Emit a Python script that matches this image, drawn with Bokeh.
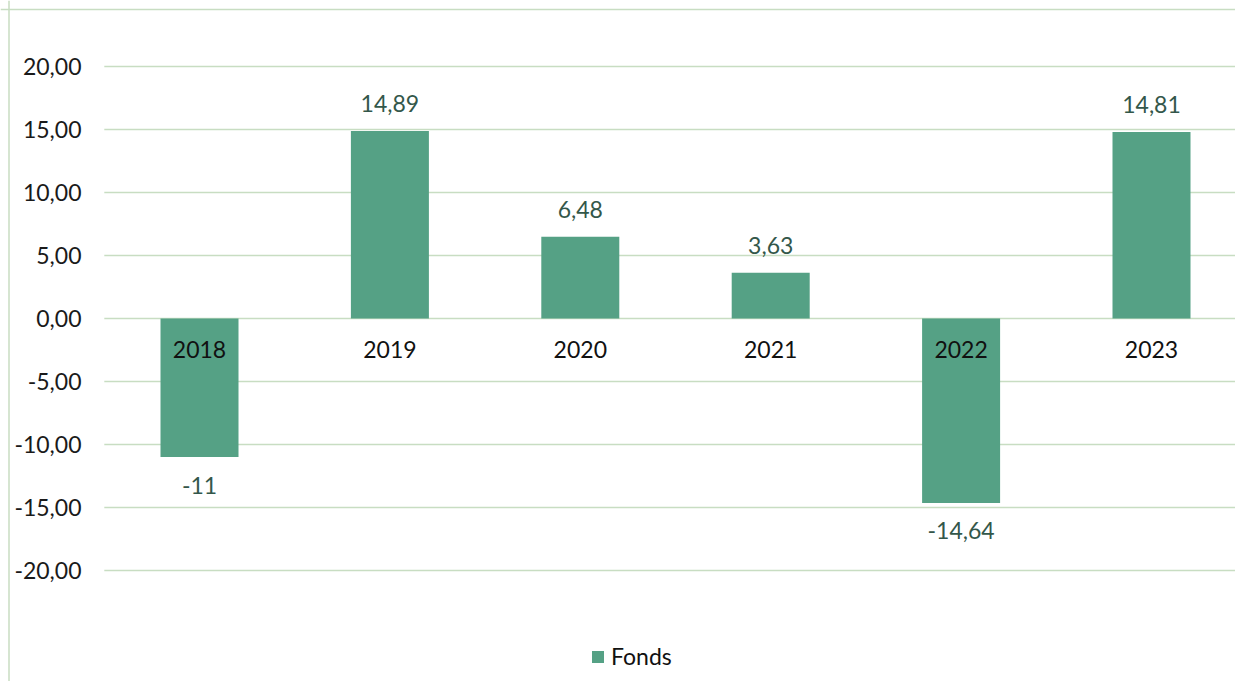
from bokeh.plotting import figure
from bokeh.models import Range1d, Span, Legend, LegendItem, ColumnDataSource
from bokeh.core.properties import value
from bokeh.embed import file_html
from bokeh.resources import INLINE

categories = ["2018", "2019", "2020", "2021", "2022", "2023"]
fonds = [-11.0, 14.89, 6.48, 3.63, -14.64, 14.81]
fonds_labels = ["-11", "14,89", "6,48", "3,63", "-14,64", "14,81"]
y_ticks = [20, 15, 10, 5, 0, -5, -10, -15, -20]
y_tick_labels = ["20,00", "15,00", "10,00", "5,00", "0,00", "-5,00", "-10,00", "-15,00", "-20,00"]

FONT = "Lato"
FS = "23px"
BAR = "#55a185"
GRID = "#c8ddc2"
LABEL = "#33574a"

W, H = 1235, 681
PX_X = 190.4   # px per category
PX_Y = 12.6    # px per unit
x0 = -199 / PX_X
x1 = x0 + W / PX_X
y1 = 318 / PX_Y
y0 = -(H - 318) / PX_Y

p = figure(width=W, height=H, output_backend="svg", toolbar_location=None,
           x_range=Range1d(x0, x1), y_range=Range1d(y0, y1),
           min_border=0, min_border_left=0, min_border_right=0,
           min_border_top=0, min_border_bottom=0)
p.axis.visible = False
p.grid.visible = False
p.outline_line_color = None
p.background_fill_color = "white"
p.border_fill_color = "white"

idx = list(range(len(categories)))

# gridlines
grid_x0 = -0.5
p.segment(x0=[grid_x0] * len(y_ticks), x1=[x1 + 1] * len(y_ticks), y0=y_ticks, y1=y_ticks,
          line_color=GRID, line_width=1.3)

# chart border (left & top)
p.add_layout(Span(location=x0 + 8.5 / PX_X, dimension="height", line_color=GRID, line_width=1.5))
p.add_layout(Span(location=y1 - 9 / PX_Y, dimension="width", line_color=GRID, line_width=1.5))

# bars
src = ColumnDataSource(dict(x=idx, top=fonds, cat=categories, lab=fonds_labels,
                            laby=[v + (27 / PX_Y if v >= 0 else -28 / PX_Y) for v in fonds]))
r = p.vbar(x="x", top="top", bottom=0, width=78 / PX_X, source=src,
           fill_color=BAR, line_color=None)

# y tick labels
p.text(x=[x0 + 81 / PX_X] * len(y_ticks), y=y_ticks, text=y_tick_labels,
       text_align="right", text_baseline="middle", text_font=value(FONT),
       text_font_size=FS, text_color="#1a1a1a")

# category labels
p.text(x=idx, y=[-31 / PX_Y] * len(idx), text=categories,
       text_align="center", text_baseline="middle", text_font=value(FONT),
       text_font_size=FS, text_color="#111111")

# data labels
p.text(x="x", y="laby", text="lab", source=src,
       text_align="center", text_baseline="middle", text_font=value(FONT),
       text_font_size=FS, text_color=LABEL)

legend = Legend(items=[LegendItem(label="Fonds", renderers=[r])],
                location=(590, 11), orientation="horizontal",
                border_line_color=None, background_fill_alpha=0,
                padding=0, margin=0, spacing=0,
                glyph_width=15, glyph_height=15, label_standoff=6,
                label_text_font=FONT, label_text_font_size=FS,
                label_text_color="#111111", label_height=24)
p.add_layout(legend)

open("out.html", "w").write(file_html(p, INLINE))
